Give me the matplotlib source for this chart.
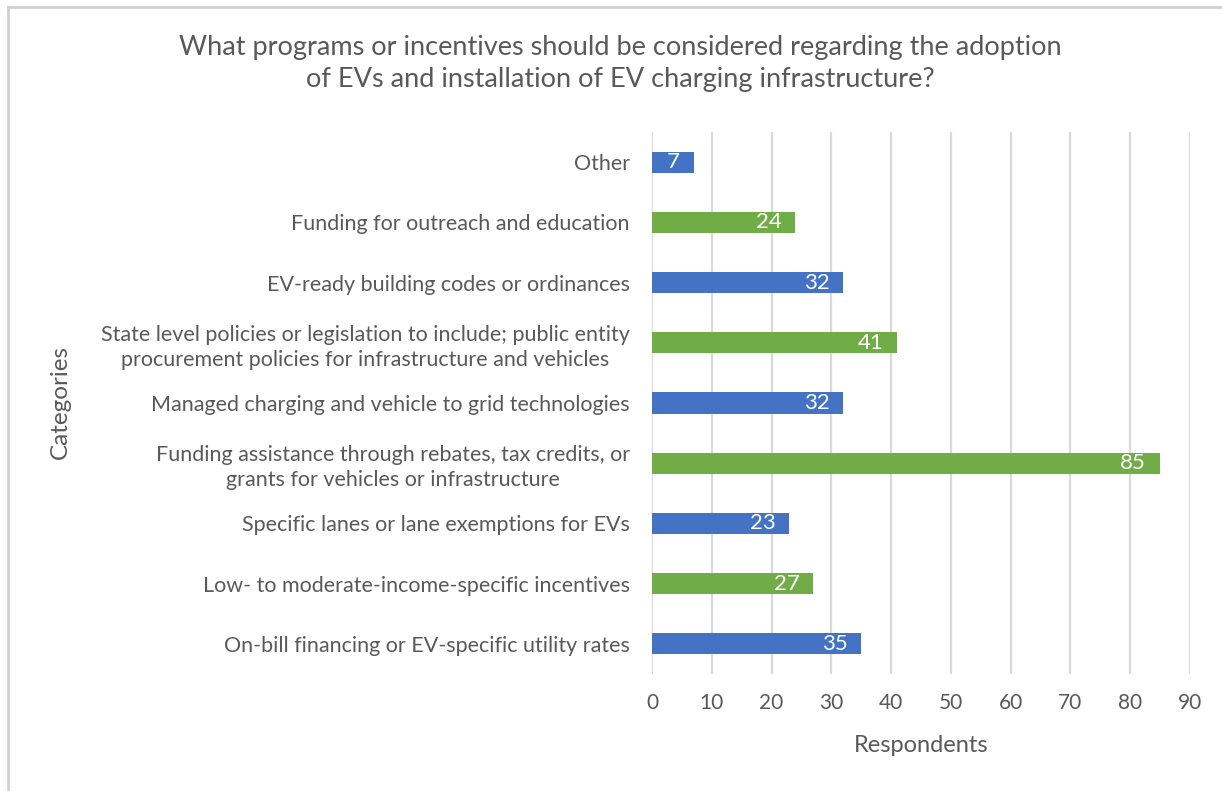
import matplotlib
matplotlib.use("Agg")
import matplotlib.pyplot as plt
from matplotlib.lines import Line2D

plt.rcParams['font.family'] = ['Lato', 'DejaVu Sans']

categories = [
    "On-bill financing or EV-specific utility rates",
    "Low- to moderate-income-specific incentives",
    "Specific lanes or lane exemptions for EVs",
    "Funding assistance through rebates, tax credits, or\ngrants for vehicles or infrastructure",
    "Managed charging and vehicle to grid technologies",
    "State level policies or legislation to include; public entity\nprocurement policies for infrastructure and vehicles",
    "EV-ready building codes or ordinances",
    "Funding for outreach and education",
    "Other",
]
values = [35, 27, 23, 85, 32, 41, 32, 24, 7]
xticks = [0, 10, 20, 30, 40, 50, 60, 70, 80, 90]
title = ("What programs or incentives should be considered regarding the adoption\n"
         "of EVs and installation of EV charging infrastructure?")

blue = "#4472C4"
green = "#70AD47"
colors = [blue if i % 2 == 0 else green for i in range(len(values))]
text_gray = "#595959"

fig = plt.figure(figsize=(12.22, 7.91), dpi=100)
ax = fig.add_axes([652/1222, 1-674/791, (1190-652)/1222, (674-132)/791])

ypos = list(range(len(categories)))
bars = ax.barh(ypos, values, height=0.35, color=colors, zorder=3)
for b, v in zip(bars, values):
    ax.annotate(str(v), xy=(b.get_width(), b.get_y() + b.get_height()/2),
                xytext=(-10, 0), textcoords='offset points',
                ha='right', va='center', color='white', fontsize=16, zorder=4)

ax.set_xlim(0, 90)
ax.set_ylim(-0.5, len(categories) - 0.5)
ax.set_xticks(xticks)
ax.set_xticklabels([str(t) for t in xticks], fontsize=15, color=text_gray)
ax.set_yticks(ypos)
ax.set_yticklabels(categories, fontsize=15.5, color=text_gray, linespacing=1.3)
for lbl in ax.get_yticklabels():
    lbl.set_multialignment('center')
ax.tick_params(axis='both', length=0)
ax.tick_params(axis='x', pad=14)
ax.tick_params(axis='y', pad=16)
ax.xaxis.grid(True, color="#D9D9D9", linewidth=1.6, zorder=0)
ax.set_axisbelow(True)
for s in ax.spines.values():
    s.set_visible(False)

fig.text(921/1222, 1-745/791, "Respondents", ha='center', va='center', fontsize=17, color=text_gray)
fig.text(60/1222, 1-402/791, "Categories", ha='center', va='center', rotation=90, fontsize=17.5, color=text_gray)
fig.text(620/1222, 1-64/791, title, ha='center', va='center', fontsize=19.5, color=text_gray, linespacing=1.35)

# border of the chart frame
fig.add_artist(Line2D([8/1222, 1.0], [1-7/791, 1-7/791], color="#D0D0D0", linewidth=2, transform=fig.transFigure))
fig.add_artist(Line2D([8/1222, 8/1222], [0, 1-7/791], color="#D0D0D0", linewidth=2, transform=fig.transFigure))

fig.savefig("out.png", dpi=100)
